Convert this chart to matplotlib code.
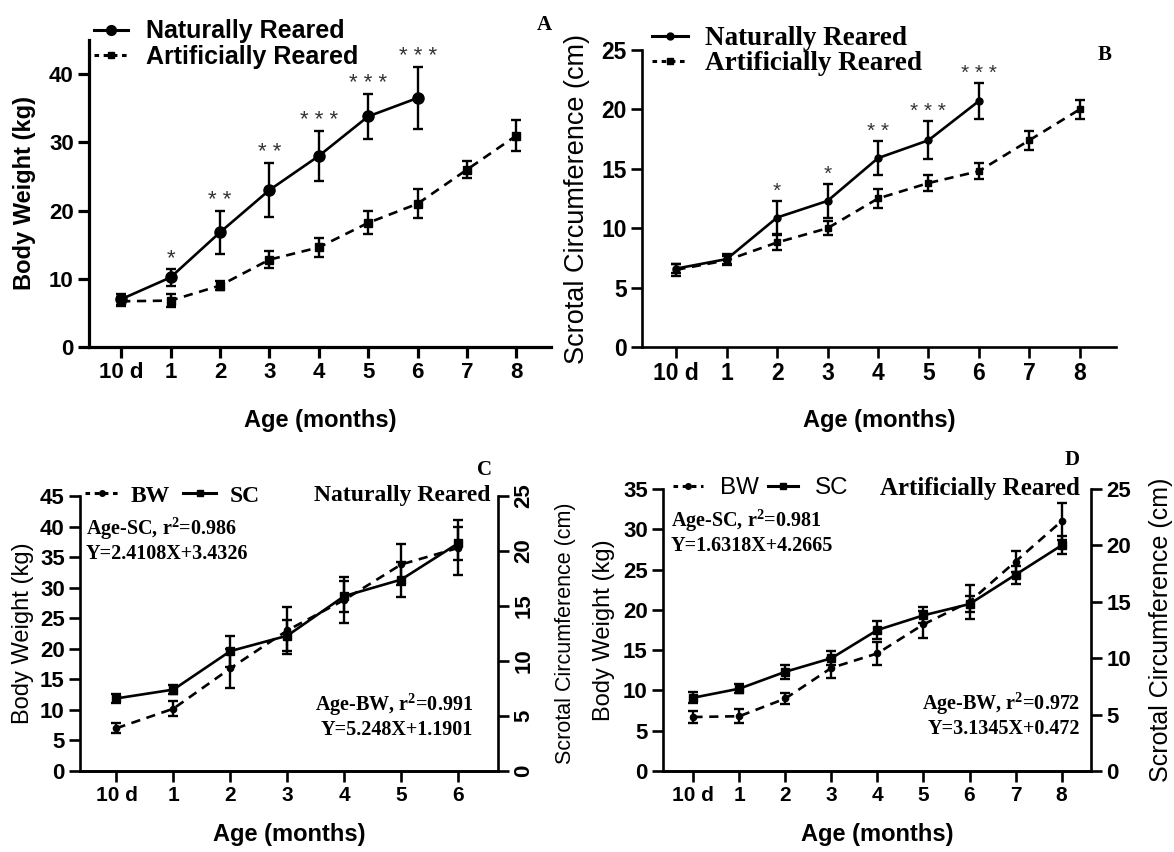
import matplotlib
matplotlib.use('Agg')
import matplotlib.pyplot as plt
import matplotlib.transforms as mtransforms
from matplotlib.lines import Line2D

# ages: 10 days, then months 1..8
age_labels = ['10 d', '1', '2', '3', '4', '5', '6', '7', '8']

# body weight (kg), mean and SD
bw_nat = [7.0, 10.2, 16.8, 23.0, 28.0, 33.8, 36.5]
bw_nat_err = [0.8, 1.2, 3.2, 3.9, 3.7, 3.3, 4.5]
bw_art = [6.7, 6.8, 9.0, 12.8, 14.6, 18.2, 21.0, 26.0, 31.0]
bw_art_err = [0.7, 0.9, 0.7, 1.2, 1.4, 1.7, 2.1, 1.3, 2.3]
bw_stars = ['', '*', '* *', '* *', '* * *', '* * *', '* * *']

# scrotal circumference (cm), mean and SD
sc_nat = [6.6, 7.4, 10.9, 12.3, 15.9, 17.4, 20.7]
sc_nat_err = [0.4, 0.4, 1.4, 1.4, 1.4, 1.6, 1.5]
sc_art = [6.5, 7.3, 8.8, 10.0, 12.5, 13.8, 14.8, 17.4, 20.0]
sc_art_err = [0.5, 0.4, 0.6, 0.6, 0.8, 0.7, 0.7, 0.8, 0.8]
sc_stars = ['', '', '*', '*', '* *', '* * *', '* * *']

reg_nat = ['Age-SC, r$^{2}$=0.986\nY=2.4108X+3.4326',
           'Age-BW, r$^{2}$=0.991\nY=5.248X+1.1901']
reg_art = ['Age-SC, r$^{2}$=0.981\nY=1.6318X+4.2665',
           'Age-BW, r$^{2}$=0.972\nY=3.1345X+0.472']

SANS = 'Liberation Sans'
SERIF = 'Liberation Serif'
plt.rcParams['font.family'] = SANS
plt.rcParams['mathtext.fontset'] = 'custom'
plt.rcParams['mathtext.rm'] = 'Liberation Serif:bold'
plt.rcParams['mathtext.it'] = 'Liberation Serif:bold'

W, H = 1174, 852
fig = plt.figure(figsize=(W / 100, H / 100), dpi=100)


def px(x, y):
    # pixel position (from top-left) -> figure fraction
    return x / W, 1 - y / H


def box(left, top, right, bottom):
    return [left / W, 1 - bottom / H, (right - left) / W, (bottom - top) / H]


def style_axes(ax, lw, xsize, ysize):
    ax.spines['top'].set_visible(False)
    ax.spines['right'].set_visible(False)
    for s in ax.spines.values():
        s.set_linewidth(lw)
    ax.tick_params(width=lw, length=8, pad=3)
    ax.tick_params(axis='x', labelsize=xsize)
    ax.tick_params(axis='y', labelsize=ysize)
    for lab in ax.get_xticklabels() + ax.get_yticklabels():
        lab.set_fontweight('bold')


def draw_series(ax, y, err, ls, marker, ms, lw=1.9):
    x = list(range(len(y)))
    ax.errorbar(x, y, yerr=err, color='black', ls=ls, lw=lw, marker=marker,
                ms=ms, capsize=3.5, elinewidth=1.7, capthick=1.7,
                dashes=(3.5, 2.5) if ls == '--' else (None, None))


def add_stars(ax, y, err, stars, off, size):
    for i, s in enumerate(stars):
        if s:
            ax.annotate(s, (i, y[i] + err[i]), xytext=(0, off), textcoords='offset points',
                        ha='center', va='bottom', fontsize=size, color='#333333')


def ylabel_at(ax, xpix):
    tr = mtransforms.blended_transform_factory(fig.transFigure, ax.transAxes)
    ax.yaxis.set_label_coords(xpix / W, 0.5, transform=tr)


def xlabel_at(ax, ypix):
    tr = mtransforms.blended_transform_factory(ax.transAxes, fig.transFigure)
    ax.xaxis.set_label_coords(0.5, 1 - ypix / H, transform=tr)


# ---------- A ----------
axA = fig.add_axes(box(89, 40, 551, 347))
draw_series(axA, bw_nat, bw_nat_err, '-', 'o', 8)
draw_series(axA, bw_art, bw_art_err, '--', 's', 6)
add_stars(axA, bw_nat, bw_nat_err, bw_stars, 0, 16)
axA.set_xlim(-0.65, 8.70)
axA.set_ylim(0, 45)
axA.set_yticks([0, 10, 20, 30, 40])
axA.set_xticks(range(9))
axA.set_xticklabels(age_labels)
style_axes(axA, 2.3, 16, 16)
axA.set_ylabel('Body Weight (kg)', fontsize=17, fontweight='bold')
ylabel_at(axA, 36)
axA.set_xlabel('Age (months)', fontsize=17, fontweight='bold', va='center')
xlabel_at(axA, 421)
hA = [Line2D([], [], color='black', lw=2.2, marker='o', ms=7),
      Line2D([], [], color='black', lw=2.2, ls=(0, (1.5, 1.5)), marker='s', ms=5)]
fig.legend(hA, ['Naturally Reared', 'Artificially Reared'], loc='center left',
           bbox_to_anchor=px(94, 44), frameon=False, handlelength=1.36,
           labelspacing=0.05, borderpad=0, borderaxespad=0, handletextpad=0.72,
           prop={'family': SANS, 'weight': 'bold', 'size': 18})
fig.text(*px(544, 25), 'A', family=SERIF, fontweight='bold', fontsize=15, ha='center', va='center')

# ---------- B ----------
axB = fig.add_axes(box(642, 50, 1116, 347))
draw_series(axB, sc_nat, sc_nat_err, '-', 'o', 5)
draw_series(axB, sc_art, sc_art_err, '--', 's', 5)
add_stars(axB, sc_nat, sc_nat_err, sc_stars, 0, 15)
axB.set_xlim(-0.68, 8.72)
axB.set_ylim(0, 25)
axB.set_yticks([0, 5, 10, 15, 20, 25])
axB.set_xticks(range(9))
axB.set_xticklabels(age_labels)
style_axes(axB, 1.9, 16.5, 16.5)
axB.set_ylabel('Scrotal Circumference (cm)', fontsize=19.5)
ylabel_at(axB, 590)
axB.set_xlabel('Age (months)', fontsize=17, fontweight='bold', va='center')
xlabel_at(axB, 421)
hB = [Line2D([], [], color='black', lw=2.2, marker='o', ms=5),
      Line2D([], [], color='black', lw=2.2, ls=(0, (1.5, 1.5)), marker='s', ms=5)]
fig.legend(hB, ['Naturally Reared', 'Artificially Reared'], loc='center left',
           bbox_to_anchor=px(652, 51), frameon=False, handlelength=1.33,
           labelspacing=0.0, borderpad=0, borderaxespad=0, handletextpad=0.63,
           prop={'family': SERIF, 'weight': 'bold', 'size': 19.5})
fig.text(*px(1105, 55), 'B', family=SERIF, fontweight='bold', fontsize=15, ha='center', va='center')


def panel_cd(frame, bw, bw_err, sc, sc_err, bw_max, xlim, title, title_xy, reg, reg_xy,
             leg, tag, tag_xy, ylab_x, sizes, right_rot):
    ax = fig.add_axes(box(*frame))
    ax2 = ax.twinx()
    n = len(bw)
    draw_series(ax, bw, bw_err, '--', 'o', 4.5)
    draw_series(ax2, sc, sc_err, '-', 's', 5.5)
    ax.set_xlim(*xlim)
    ax.set_ylim(0, bw_max)
    ax.set_yticks(list(range(0, bw_max + 1, 5)))
    ax2.set_ylim(0, 25)
    ax2.set_yticks([0, 5, 10, 15, 20, 25])
    ax.set_xticks(range(n))
    ax.set_xticklabels(age_labels[:n])
    style_axes(ax, 1.9, 15, 16)
    ax2.spines['top'].set_visible(False)
    ax2.spines['left'].set_visible(False)
    for s in ax2.spines.values():
        s.set_linewidth(1.9)
    ax2.tick_params(width=1.9, length=8, labelsize=16, pad=3)
    for lab in ax2.get_yticklabels():
        lab.set_fontweight('bold')
        if right_rot:
            lab.set_rotation(right_rot)
            lab.set_va('center')
    ax.set_ylabel('Body Weight (kg)', fontsize=sizes[0])
    ylabel_at(ax, ylab_x[0])
    ax2.set_ylabel('Scrotal Circumference (cm)', fontsize=sizes[1])
    ylabel_at(ax2, ylab_x[1])
    ax.set_xlabel('Age (months)', fontsize=17, fontweight='bold', va='center')
    xlabel_at(ax, 834)
    h = [Line2D([], [], color='black', lw=2.2, ls=(0, (1.5, 1.5)), marker='o', ms=4),
         Line2D([], [], color='black', lw=2.2, marker='s', ms=4)]
    fig.legend(h, ['BW', 'SC'], loc='center left', bbox_to_anchor=px(*leg[0]),
               frameon=False, ncol=2, handlelength=leg[1], columnspacing=leg[2],
               handletextpad=leg[3], borderpad=0, borderaxespad=0, prop=leg[4])
    fig.text(*px(*title_xy), title, ha='right', va='center',
             family=SERIF, fontweight='bold', fontsize=sizes[2])
    fig.text(*px(*reg_xy[0]), reg[0], ha='left', va='center',
             family=SERIF, fontweight='bold', fontsize=14.5, linespacing=1.15)
    fig.text(*px(*reg_xy[1]), reg[1], ha='right', va='center',
             family=SERIF, fontweight='bold', fontsize=14.5, linespacing=1.15)
    fig.text(*px(*tag_xy), tag, family=SERIF, fontweight='bold', fontsize=15,
             ha='center', va='center')
    return ax


panel_cd((80, 496, 498, 771), bw_nat, bw_nat_err, sc_nat, sc_nat_err, 45, (-0.64, 6.70),
         'Naturally Reared', (490, 496), reg_nat, [(86, 540), (473, 716)],
         [(85, 496), 1.4, 0.55, 0.55, {'family': SERIF, 'weight': 'bold', 'size': 17}],
         'C', (485, 470), (34, 555), (17, 15.5, 17), 90)
panel_cd((663, 489, 1091, 771), bw_art, bw_art_err, sc_art, sc_art_err, 35, (-0.66, 8.64),
         'Artificially Reared', (1080, 488), reg_art, [(671, 532), (1080, 715)],
         [(673, 488), 1.24, 0.4, 0.7, {'family': SANS, 'size': 17.4}],
         'D', (1072, 460), (615, 1149), (17, 18, 18), 0)

fig.savefig('out.png', dpi=100, facecolor='white')
